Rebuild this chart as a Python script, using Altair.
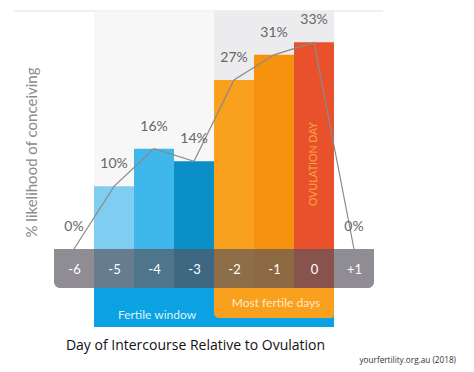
import altair as alt
import pandas as pd

# ---- data ----
days = [-6, -5, -4, -3, -2, -1, 0, 1]
pct = [0, 10, 16, 14, 27, 31, 33, 0]
bar_colors = ["#ffffff", "#7fcdf1", "#3fb7ea", "#0a8fc9", "#f9a01e", "#f7920f", "#e9502c", "#ffffff"]
label_text = ["0%", "10%", "16%", "14%", "27%", "31%", "33%", "0%"]

fertile_window = [-5, 0]
most_fertile = [-2, 0]
panels = [{"start": -5, "end": -3, "fill": "#f7f7f7"}, {"start": -2, "end": 0, "fill": "#ececee"}]

df = pd.DataFrame({"day": days, "pct": pct, "col": bar_colors, "lab": label_text})
bars_df = df[df["pct"] > 0]
panels_df = pd.DataFrame(panels)

xs = alt.Scale(domain=[-6.5, 1.5], nice=False, zero=False, padding=0)
ys = alt.Scale(domain=[0, 38], nice=False, zero=False)

x_axis = alt.Axis(
    values=days, labelExpr="datum.value > 0 ? '+' + datum.value : '' + datum.value",
    ticks=False, domain=False, grid=False, labelColor="#ffffff", labelFontSize=13,
    labelFont="Lato", labelPadding=14, zindex=1,
    title="Day of Intercourse Relative to Ovulation", titleFont="Open Sans",
    titleFontSize=14, titleFontWeight="normal", titleColor="#111111",
    titleX=141, titleY=96, titleBaseline="middle", titleAlign="center",
)
y_axis = alt.Axis(
    labels=False, ticks=False, domain=False, grid=False,
    title="% likelihood of conceiving", titleFont="Lato", titleFontSize=15,
    titleFontWeight="normal", titleColor="#8c8c8c",
    titleX=-23, titleY=141, titleBaseline="middle", titleAlign="center", titleAngle=-90,
)

base = alt.Chart(df)

panel_layer = alt.Chart(panels_df).transform_calculate(
    x0="datum.start - 0.5", x1="datum.end + 0.5"
).mark_rect().encode(
    x=alt.X("x0:Q", scale=xs, axis=x_axis),
    x2="x1:Q",
    y=alt.value(0),
    y2=alt.value(238),
    fill=alt.Fill("fill:N", scale=None),
)

box_df = pd.DataFrame({"s": [fertile_window[0]], "e": [fertile_window[1]]})
window_box = alt.Chart(box_df).transform_calculate(
    x0="datum.s - 0.5", x1="datum.e + 0.5"
).mark_rect(color="#0aa2e2").encode(
    x=alt.X("x0:Q", scale=xs), x2="x1:Q", y=alt.value(277), y2=alt.value(316)
)
mf_df = pd.DataFrame({"s": [most_fertile[0]], "e": [most_fertile[1]]})
mf_box = alt.Chart(mf_df).transform_calculate(
    x0="datum.s - 0.5", x1="datum.e + 0.5"
).mark_rect(color="#f9a01e", cornerRadiusBottomLeft=5, cornerRadiusBottomRight=3).encode(
    x=alt.X("x0:Q", scale=xs), x2="x1:Q", y=alt.value(277), y2=alt.value(307)
)

bars = alt.Chart(bars_df).transform_calculate(
    x0="datum.day - 0.5", x1="datum.day + 0.5"
).mark_rect().encode(
    x=alt.X("x0:Q", scale=xs),
    x2="x1:Q",
    y=alt.Y("pct:Q", scale=ys, axis=y_axis),
    y2=alt.value(277),
    fill=alt.Fill("col:N", scale=None),
)

band_df = pd.DataFrame({"s": [days[0]], "e": [days[-1]]})
band = alt.Chart(band_df).transform_calculate(
    x0="datum.s - 0.5", x1="datum.e + 0.5"
).mark_rect(color="#58555e", opacity=0.67, cornerRadiusBottomLeft=6, cornerRadiusBottomRight=6).encode(
    x=alt.X("x0:Q", scale=xs), x2="x1:Q", y=alt.value(238), y2=alt.value(277)
)

line = base.mark_line(color="#8a8a8a", strokeWidth=1.2).encode(
    x=alt.X("day:Q", scale=xs), y=alt.Y("pct:Q", scale=ys)
)

labels = base.mark_text(font="Lato", fontSize=14, color="#666666", dy=-22, baseline="middle").encode(
    x=alt.X("day:Q", scale=xs), y=alt.Y("pct:Q", scale=ys), text="lab:N"
)

fw_text = alt.Chart(pd.DataFrame({"d": [-4], "t": ["Fertile window"]})).mark_text(
    font="Lato", fontSize=12, color="#dff2fb", dx=3, baseline="middle"
).encode(x=alt.X("d:Q", scale=xs), y=alt.value(304), text="t:N")

mf_text = alt.Chart(pd.DataFrame({"d": [-1], "t": ["Most fertile days"]})).mark_text(
    font="Lato", fontSize=12, color="#fde9cc", dx=2, baseline="middle"
).encode(x=alt.X("d:Q", scale=xs), y=alt.value(292), text="t:N")

ov_text = alt.Chart(pd.DataFrame({"d": [0], "t": ["OVULATION DAY"]})).mark_text(
    font="Lato", fontSize=10.5, color="#f7a640", angle=270, baseline="middle"
).encode(x=alt.X("d:Q", scale=xs), y=alt.value(153), text="t:N")

src_text = alt.Chart(pd.DataFrame({"t": ["yourfertility.org.au (2018)"]})).mark_text(
    font="Open Sans", fontSize=8.2, color="#333333", align="right", baseline="middle"
).encode(x=alt.value(402), y=alt.value(350), text="t:N")

top_rule = alt.Chart(pd.DataFrame({"a": [0]})).mark_rule(color="#f0f0f0", strokeWidth=2).encode(
    x=alt.value(-40), x2=alt.value(329), y=alt.value(0)
)

chart = alt.layer(
    top_rule, panel_layer, window_box, mf_box, bars, band, line, labels,
    fw_text, mf_text, ov_text, src_text,
).properties(
    width=320, height=238,
    autosize=alt.AutoSizeParams(type="none"),
    padding={"left": 46, "top": 3, "right": 92, "bottom": 119},
).configure_view(stroke=None)

chart.save("out.html", embed_options={"renderer": "svg", "actions": False})
